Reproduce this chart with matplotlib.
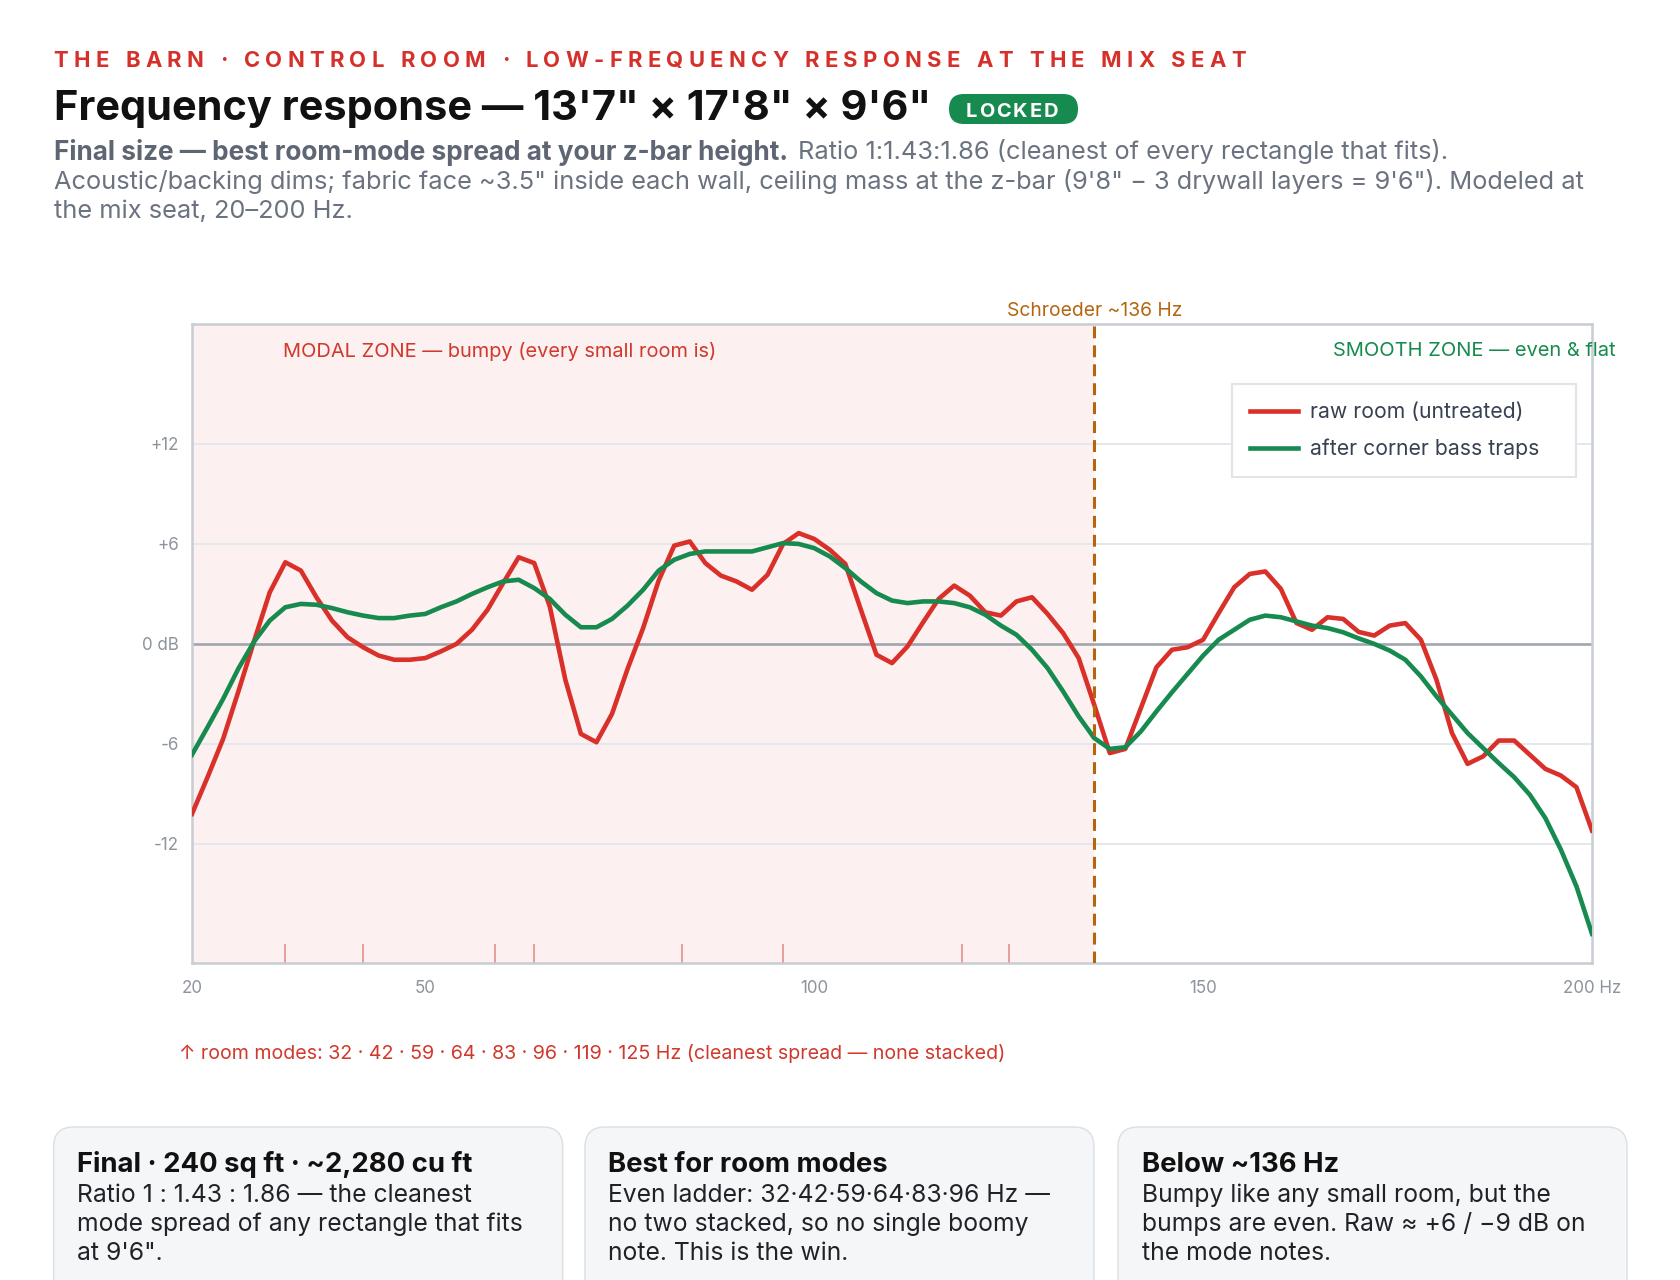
import matplotlib
matplotlib.use('Agg')
import matplotlib.pyplot as plt
from matplotlib.patches import FancyBboxPatch
from matplotlib.transforms import blended_transform_factory

W, H, DPI = 1680, 1280, 100
PX = 72.0 / DPI

# ---------------- data ----------------
freq_hz = list(range(20, 201, 2))
raw_db = [-10.2, -8.0, -5.7, -2.8, 0.2, 3.1, 4.9, 4.4, 2.8, 1.4,
          0.4, -0.2, -0.7, -0.95, -0.95, -0.85, -0.45, 0.0, 0.85, 2.05,
          3.65, 5.2, 4.85, 2.25, -2.15, -5.4, -5.9, -4.2, -1.5, 0.95,
          3.8, 5.9, 6.15, 4.85, 4.1, 3.75, 3.25, 4.15, 6.0, 6.65,
          6.3, 5.65, 4.8, 2.05, -0.65, -1.15, -0.15, 1.3, 2.7, 3.5,
          2.9, 1.9, 1.7, 2.55, 2.8, 1.8, 0.65, -0.85, -3.65, -6.55,
          -6.3, -3.85, -1.4, -0.35, -0.2, 0.25, 1.85, 3.4, 4.2, 4.35,
          3.3, 1.25, 0.85, 1.6, 1.5, 0.72, 0.5, 1.1, 1.25, 0.25,
          -2.15, -5.35, -7.2, -6.75, -5.8, -5.8, -6.65, -7.5, -7.9, -8.6,
          -11.2]
treated_db = [-6.65, -5.0, -3.3, -1.45, 0.15, 1.4, 2.2, 2.4, 2.35, 2.15,
              1.9, 1.7, 1.55, 1.55, 1.7, 1.8, 2.2, 2.55, 3.0, 3.4,
              3.75, 3.85, 3.35, 2.7, 1.75, 1.0, 1.0, 1.5, 2.3, 3.25,
              4.4, 5.05, 5.4, 5.55, 5.55, 5.55, 5.55, 5.8, 6.05, 6.0,
              5.75, 5.25, 4.55, 3.75, 3.05, 2.6, 2.45, 2.55, 2.55, 2.45,
              2.2, 1.75, 1.1, 0.55, -0.35, -1.45, -2.85, -4.35, -5.65, -6.3,
              -6.2, -5.25, -4.05, -2.9, -1.8, -0.7, 0.25, 0.85, 1.45, 1.7,
              1.6, 1.35, 1.1, 0.95, 0.7, 0.33, 0.0, -0.4, -0.95, -1.95,
              -3.15, -4.25, -5.35, -6.25, -7.15, -8.0, -9.05, -10.45, -12.35, -14.55,
              -17.4]
mode_hz = [32, 42, 59, 64, 83, 96, 119, 125]
schroeder_hz = 136
x_ticks = [20, 50, 100, 150, 200]
x_tick_labels = ['20', '50', '100', '150', '200 Hz']
y_ticks = [-12, -6, 0, 6, 12]
y_tick_labels = ['-12', '-6', '0 dB', '+6', '+12']
series_labels = ['raw room (untreated)', 'after corner bass traps']

header = "THE BARN · CONTROL ROOM · LOW-FREQUENCY RESPONSE AT THE MIX SEAT"
title = "Frequency response — 13'7\" × 17'8\" × 9'6\""
badge = "LOCKED"
sub_bold = "Final size — best room-mode spread at your z-bar height."
sub_reg1 = "Ratio 1:1.43:1.86 (cleanest of every rectangle that fits)."
sub_line2 = ("Acoustic/backing dims; fabric face ~3.5\" inside each wall, ceiling mass at the "
             "z-bar (9'8\" − 3 drywall layers = 9'6\"). Modeled at")
sub_line3 = "the mix seat, 20–200 Hz."
modal_label = "MODAL ZONE — bumpy (every small room is)"
smooth_label = "SMOOTH ZONE — even & flat"
schroeder_label = "Schroeder ~136 Hz"
modes_note = "↑ room modes: 32 · 42 · 59 · 64 · 83 · 96 · 119 · 125 Hz (cleanest spread — none stacked)"
card_titles = ["Final · 240 sq ft · ~2,280 cu ft", "Best for room modes", "Below ~136 Hz"]
card_bodies = [
    ["Ratio 1 : 1.43 : 1.86 — the cleanest", "mode spread of any rectangle that fits", "at 9'6\"."],
    ["Even ladder: 32·42·59·64·83·96 Hz —", "no two stacked, so no single boomy", "note. This is the win."],
    ["Bumpy like any small room, but the", "bumps are even. Raw ≈ +6 / −9 dB on", "the mode notes."],
]

# ---------------- colours ----------------
RED = '#d9302a'
GREEN = '#178a4f'
HEAD_RED = '#d5302a'
AMBER = '#b5650e'
GRAY_T = '#6b7280'
TICK_C = '#8e949e'

plt.rcParams['font.family'] = ['Inter', 'DejaVu Sans']

fig = plt.figure(figsize=(W / DPI, H / DPI), dpi=DPI)
fig.patch.set_facecolor('white')
bg = fig.add_axes([0, 0, 1, 1])
bg.set_xlim(0, W)
bg.set_ylim(H, 0)
bg.axis('off')
renderer = fig.canvas.get_renderer()


def wpx(t):
    return t.get_window_extent(renderer).width


def fit_text(x, y, s, target_w, size_px, ax=None, **kw):
    ax = ax or bg
    t = ax.text(x, y, s, fontsize=size_px * PX, **kw)
    w = wpx(t)
    t.set_fontsize(size_px * PX * target_w / w)
    return t


def spaced_text(x0, y, s, target_w, size_px, **kw):
    widths = []
    for c in s:
        if c == ' ':
            widths.append(0.26 * size_px)
        else:
            t = bg.text(0, 0, c, fontsize=size_px * PX, **kw)
            widths.append(wpx(t))
            t.remove()
    gap = (target_w - sum(widths)) / (len(s) - 1)
    x = x0
    for c, w in zip(s, widths):
        if c != ' ':
            bg.text(x, y, c, fontsize=size_px * PX, ha='left', **kw)
        x += w + gap


# ---------------- header block ----------------
spaced_text(53.6, 67, header, 1192, 22, weight='bold', color=HEAD_RED)
fit_text(53.6, 120, title, 878, 42, weight='bold', color='#111111')
bg.add_patch(FancyBboxPatch((949, 94), 129, 30, boxstyle='round,pad=0,rounding_size=15',
                            fc='#178a50', ec='none'))
spaced_text(966, 116.7, badge, 92, 20, weight='bold', color='white')

t2 = fit_text(53.6, 189, sub_line2, 1528, 22, color=GRAY_T)
sub_size = t2.get_fontsize()
fit_text(53.6, 159.5, sub_bold, 736, 22, weight='bold', color='#5f6673')
bg.text(798, 159.5, sub_reg1, fontsize=sub_size, color=GRAY_T)
bg.text(53.6, 218.5, sub_line3, fontsize=sub_size, color=GRAY_T)

# ---------------- chart ----------------
L, R, T, B = 192, 1592, 324, 963
ax = fig.add_axes([L / W, 1 - B / H, (R - L) / W, (B - T) / H])
ax.set_facecolor('white')
ax.set_xlim(20, 200)
ax.set_ylim(-19.15, 19.2)


def afrac(xp, yp):
    return ((xp - L) / (R - L), (B - yp) / (B - T))


ax.axvspan(20, schroeder_hz, color='#fcf0f0', lw=0, zorder=0)
for yv in y_ticks:
    if yv == 0:
        ax.axhline(yv, color='#a0a5ae', lw=1.9, zorder=1)
    else:
        ax.axhline(yv, color='#e4e7ec', lw=1.4, zorder=1)

ax.vlines(mode_hz, 0, 19 / (B - T), transform=ax.get_xaxis_transform(),
          color='#e08a85', lw=1.1, zorder=2)
ax.plot(freq_hz, raw_db, color=RED, lw=3.3, zorder=3, solid_joinstyle='round',
        label=series_labels[0])
ax.plot(freq_hz, treated_db, color=GREEN, lw=3.3, zorder=4, solid_joinstyle='round',
        label=series_labels[1])
ax.axvline(schroeder_hz, color=AMBER, lw=2.2, ls=(0, (3.9, 2.3)), zorder=5)

ax.set_xticks(x_ticks)
ax.set_xticklabels(x_tick_labels)
ax.set_yticks(y_ticks)
ax.set_yticklabels(y_tick_labels)
ax.tick_params(length=0, labelsize=17 * PX, labelcolor=TICK_C)
ax.tick_params(axis='y', pad=9.4)
ax.tick_params(axis='x', pad=12.5)
for sp in ax.spines.values():
    sp.set_color('#c8ccd3')
    sp.set_linewidth(1.8)

# zone & schroeder labels
xs, ys = afrac(L, 316)
fit_text(schroeder_hz, ys, schroeder_label, 175, 18, ax=ax,
         transform=blended_transform_factory(ax.transData, ax.transAxes),
         ha='center', color=AMBER, clip_on=False)
xm, ym = afrac(282.6, 357)
fit_text(xm, ym, modal_label, 434, 19.5, ax=ax, transform=ax.transAxes,
         ha='left', color='#d0392b', clip_on=False)
xsm, ysm = afrac(1616, 356)
fit_text(xsm, ysm, smooth_label, 283, 19.5, ax=ax, transform=ax.transAxes,
         ha='right', color=GREEN, clip_on=False)

# legend
probe = bg.text(0, 0, series_labels[0], fontsize=19 * PX)
leg_pt = 19 * PX * 213 / wpx(probe)
probe.remove()
leg_px = leg_pt / PX
lx0, ly0 = afrac(1232, 472)
lx1, ly1 = afrac(1576, 384)
leg = ax.legend(loc='upper left', bbox_to_anchor=(lx0, ly0, lx1 - lx0, ly1 - ly0),
                mode='expand', fontsize=leg_pt, frameon=True, fancybox=False,
                edgecolor='#e1e5ea', facecolor='white', framealpha=1,
                borderaxespad=0, borderpad=0.85, labelspacing=0.78,
                handlelength=48 / leg_px, handletextpad=12 / leg_px)
leg.get_frame().set_linewidth(1.5)
for txt in leg.get_texts():
    txt.set_color('#374151')
leg.set_zorder(10)

# modes note
fit_text(179, 1059, modes_note, 825, 17.5, color='#d0392b')

# ---------------- cards ----------------
cards_x = [(53.6, 562.7), (585, 1094), (1118, 1627)]
probe = bg.text(0, 0, card_titles[0], fontsize=24 * PX, weight='bold')
ct_pt = 24 * PX * 395 / wpx(probe)
probe.remove()
probe = bg.text(0, 0, card_bodies[0][1], fontsize=21 * PX)
cb_pt = 21 * PX * 445 / wpx(probe)
probe.remove()
for (x0, x1), ttl, body in zip(cards_x, card_titles, card_bodies):
    bg.add_patch(FancyBboxPatch((x0, 1127), x1 - x0, 220,
                                boxstyle='round,pad=0,rounding_size=20',
                                fc='#f5f6f8', ec='#dde1e6', lw=1.1))
    bg.text(x0 + 23.5, 1172, ttl, fontsize=ct_pt, weight='bold', color='#111111')
    for i, line in enumerate(body):
        bg.text(x0 + 23.5, 1202 + 29 * i, line, fontsize=cb_pt, color='#1f2328')

fig.savefig('out.png', dpi=DPI, facecolor='white')
